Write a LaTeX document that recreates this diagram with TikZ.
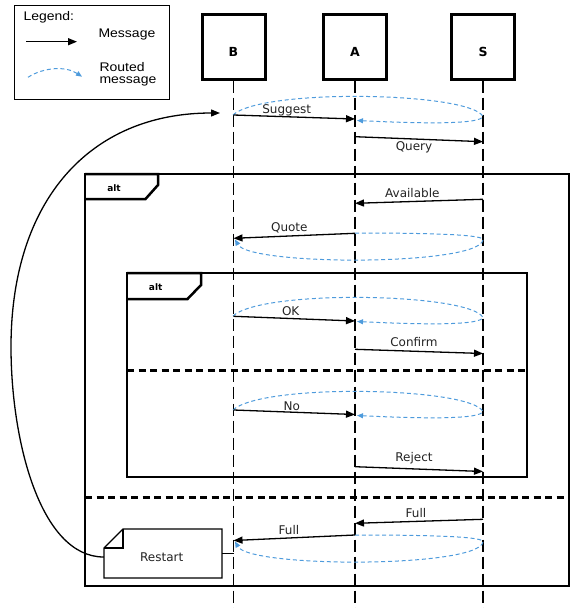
\documentclass[tikz,border=0pt]{standalone}
\usepackage{fontspec}
\setmainfont{DejaVu Sans}
\newfontfamily\legendfont[FakeStretch=1.12]{Liberation Sans}
\usetikzlibrary{arrows.meta}
\definecolor{routeblue}{RGB}{78,155,220}
\definecolor{labelgray}{RGB}{35,35,35}
\begin{document}
\begin{tikzpicture}[x=1pt,y=-1pt,
  head/.style={draw, line width=3pt, minimum width=63pt, minimum height=65pt, inner sep=0pt},
  headlbl/.style={anchor=base, font=\fontsize{12.5}{14}\selectfont\bfseries},
  lifeline/.style={line width=1.8pt, dash pattern=on 12pt off 5pt},
  msg/.style={line width=1.3pt, -{Triangle[length=9pt,width=7pt]}},
  routed/.style={routeblue, line width=1pt, dash pattern=on 4pt off 2.8pt, -{Triangle[length=6pt,width=5pt]}},
  lbl/.style={anchor=base, font=\fontsize{12}{14}\selectfont, text=labelgray},
  legendtxt/.style={anchor=base west, font=\legendfont\fontsize{12.5}{14}\selectfont},
  frame/.style={line width=2.5pt},
  separator/.style={line width=3pt, dash pattern=on 7pt off 4.5pt},
  altlbl/.style={anchor=base, font=\fontsize{9}{10}\selectfont\bfseries},
  thinline/.style={line width=1.3pt}]

\useasboundingbox (0,0) rectangle (570,608);

% legend
\node[draw, line width=1pt, minimum width=155pt, minimum height=94pt, inner sep=0pt] (legend) at (92,52) {};
\node[legendtxt] (lgtitle) at (20,20.7) {Legend:};
\node[legendtxt] (lgmsg) at (95,37.7) {Message};
\node[legendtxt] (lgrouted) at (96,71) {Routed};
\node[legendtxt] (lgrouted2) at (96,83.3) {message};
\coordinate (lgm1) at (26,41.7);
\coordinate (lgm2) at (77,41.7);
\draw[msg] (lgm1) -- (lgm2);
\coordinate (lgr1) at (28,77.3);
\coordinate (lgr2) at (82,76.7);
\draw[routed] (lgr1) .. controls (44,67) and (66,66) .. (lgr2);

% participants
\node[head] (B) at (233.5,46.5) {};
\node[head] (A) at (355,46.5) {};
\node[head] (S) at (483,46.5) {};
\node[headlbl] (Blbl) at (233.5,56) {B};
\node[headlbl] (Albl) at (355,56) {A};
\node[headlbl] (Slbl) at (483,56) {S};

% lifelines
\draw[lifeline] (B.south) -- (B.south |- 0,608);
\draw[lifeline] (A.south) -- (A.south |- 0,608);
\draw[lifeline] (S.south) -- (S.south |- 0,608);

% outer alt fragment
\draw[frame] (85,174) rectangle (569,586);
\draw[frame] (85,174) -- (158,174) -- (158,185) -- (145.5,199) -- (85,199);
\node[altlbl] (alt1) at (114,191.7) {alt};
\draw[separator] (85,497) -- (569,497);

% inner alt fragment
\draw[frame] (127,273) rectangle (527,477);
\draw[frame] (127,273) -- (201,273) -- (201,285) -- (187.5,299) -- (127,299);
\node[altlbl] (alt2) at (155.7,290.7) {alt};
\draw[separator] (127,370) -- (527,370);

% routed messages: B -> S -> A
\newcommand\routedfwd[1]{%
  \draw[routed, shift={(0,#1)}] (233,0) .. controls (262,-27) and (470,-23) .. (483,1.5)
    .. controls (480,9) and (430,9) .. (357,5.5);}
% routed messages: A -> S -> B
\newcommand\routedback[1]{%
  \draw[routed, shift={(0,#1)}] (355,0) .. controls (440,0) and (485,2) .. (483,7)
    .. controls (478,33) and (250,33) .. (235,6.5);}

% Suggest / Query
\routedfwd{115}
\draw[msg] (B.south |- 0,115) -- (A.south |- 0,119);
\node[lbl] (l1) at (286.7,113.3) {Suggest};
\draw[msg] (A.south |- 0,136.7) -- (S.south |- 0,141.7);
\node[lbl] (l2) at (414,150.7) {Query};

% Available / Quote
\draw[msg] (S.south |- 0,199.3) -- (A.south |- 0,203.3);
\node[lbl] (l3) at (412.3,197.7) {Available};
\routedback{233}
\draw[msg] (A.south |- 0,233.3) -- (B.south |- 0,238.3);
\node[lbl] (l4) at (289.3,231) {Quote};

% OK / Confirm
\routedfwd{316}
\draw[msg] (B.south |- 0,316.3) -- (A.south |- 0,321);
\node[lbl] (l5) at (290.7,315.7) {OK};
\draw[msg] (A.south |- 0,349.3) -- (S.south |- 0,353.5);
\node[lbl] (l6) at (414,346.7) {Confirm};

% No / Reject
\routedfwd{410}
\draw[msg] (B.south |- 0,410) -- (A.south |- 0,414.5);
\node[lbl] (l7) at (291.7,410) {No};
\draw[msg] (A.south |- 0,466.7) -- (S.south |- 0,471.5);
\node[lbl] (l8) at (414,461.7) {Reject};

% Full / Full
\draw[msg] (S.south |- 0,519.3) -- (A.south |- 0,523.3);
\node[lbl] (l9) at (416,517.3) {Full};
\routedback{535}
\draw[msg] (A.south |- 0,535) -- (B.south |- 0,540.5);
\node[lbl] (l10) at (289,534.3) {Full};

% Restart note
\node[inner sep=0pt, minimum width=118pt, minimum height=49pt] (note) at (163,553.5) {};
\draw[thinline, fill=white] (123,529) -- (222,529) -- (222,578) -- (104,578) -- (104,548) -- cycle;
\draw[thinline] (104,548) -- (123,548) -- (123,529);
\node[lbl] (notelbl) at (161.7,561) {Restart};
\draw[thinline] (note.east) -- (note.east -| B.south);

% loop back to the start
\coordinate (loopend) at (220,113);
\coordinate (loopstart) at ([yshift=-3.5pt]note.west);
\draw[thinline, -{Triangle[length=9pt,width=7pt]}] (loopstart) .. controls (40,557) and (11,440) .. (11,347)
  .. controls (11,200) and (90,113) .. (loopend);
\end{tikzpicture}
\end{document}
